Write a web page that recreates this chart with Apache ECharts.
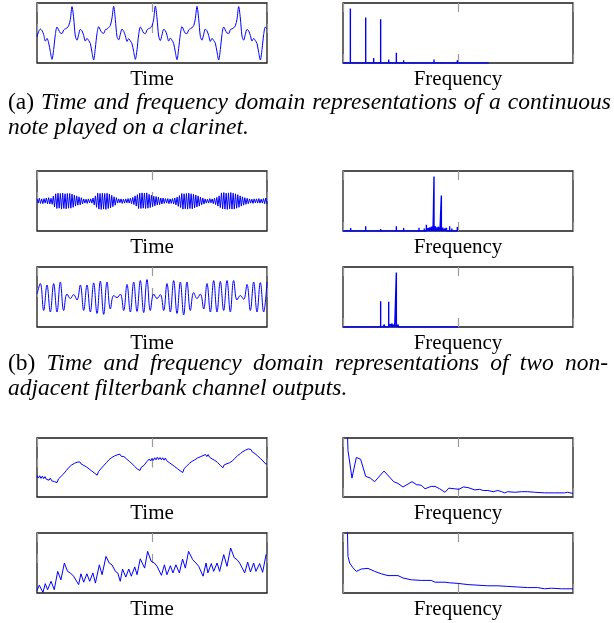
<!DOCTYPE html>
<html><head><meta charset="utf-8">
<script src="https://cdn.jsdelivr.net/npm/echarts@6/dist/echarts.min.js"></script>
<style>html,body{margin:0;padding:0;background:#fff}#c{width:614px;height:623px}</style>
</head><body><div id="c"></div>
<script>
// ---------- DATA ----------
const timeName = 'Time';
const freqName = 'Frequency';

// (a) clarinet, time domain (uniform samples across the window)
const clarinetTime = [
 -0.13,0.05,0.13,0.08,-0.05,-0.27,-0.18,-0.33,-0.62,
 -0.88,-0.55,-0.05,0.2,0.1,0.0,-0.02,0.1,0.14,0.17,0.24,0.45,0.88,0.5,-0.1,-0.24,-0.05,0.12,0.07,-0.08,-0.27,-0.18,-0.25,-0.35,-0.65,
 -0.9,-0.5,-0.02,0.21,0.1,0.01,-0.01,0.11,0.13,0.18,0.25,0.5,0.89,0.45,-0.12,-0.23,-0.04,0.13,0.06,-0.09,-0.28,-0.19,-0.26,-0.36,-0.62,
 -0.88,-0.56,-0.06,0.2,0.11,0.0,-0.02,0.1,0.15,0.17,0.23,0.46,0.9,0.5,-0.1,-0.25,-0.06,0.12,0.08,-0.07,-0.27,-0.17,-0.24,-0.35,-0.64,
 -0.89,-0.52,-0.04,0.21,0.1,-0.01,-0.02,0.1,0.14,0.18,0.24,0.48,0.89,0.48,-0.11,-0.24,-0.05,0.13,0.07,-0.08,-0.28,-0.18,-0.25,-0.34,-0.63,
 -0.9,-0.55,-0.05,0.2,0.1,0.0,-0.02,0.11,0.14,0.17,0.24,0.46,0.88,0.5,-0.1,-0.24,-0.05,0.12,0.07,-0.08,-0.27,-0.18,-0.25,-0.35,-0.65,
 -0.9,-0.55,-0.05,0.2,0.13
];

// (a) clarinet spectrum: harmonic positions and heights
const clarinetFreq = [0.96,1.96,2.96,4.0,4.91,5.96,6.96,7.91,8.91,9.91,10.87,11.87,12.83,13.83,14.91,15.87,16.87,17.9];
const clarinetAmp  = [0.91,0.03,0.76,0.085,0.73,0.057,0.17,0.045,0.02,0.03,0.015,0.057,0.012,0.012,0.045,0.02,0.008,0.006];
const clarinetFreqEnd = 19;

// (b) channel 1, time domain
const chan1Time = [
 0.08,-0.07,0.09,-0.08,0.07,-0.09,0.08,-0.07,
 0.1,-0.09,0.11,-0.1,0.09,-0.11,
 0.16,-0.2,
 0.24,-0.25,0.26,-0.24,0.25,-0.27,0.26,-0.25,0.24,-0.26,0.25,-0.24,0.25,
 -0.24,0.23,-0.21,0.2,-0.17,0.17,-0.14,0.14,-0.13,0.11,-0.1,
 0.07,-0.07,0.06,-0.08,0.07,-0.06,0.07,-0.07,
 0.1,-0.13,0.17,-0.21,
 0.26,-0.27,0.25,-0.28,0.26,-0.27,0.25,-0.28,0.26,-0.25,
 0.23,-0.23,0.19,-0.19,0.14,-0.14,0.11,
 -0.07,0.07,-0.06,0.07,-0.08,0.06,-0.07,0.07,-0.06,0.08,-0.07,
 0.09,-0.09,0.12,-0.12,0.17,-0.17,0.21,
 -0.25,0.26,-0.25,0.27,-0.24,0.26,-0.25,0.27,-0.24,
 0.22,-0.22,0.19,-0.19,0.16,-0.16,0.15,-0.13,0.13,-0.12,0.1,-0.1,0.1,
 -0.08,0.08,-0.07,0.08,-0.09,0.07,-0.08,0.08,
 -0.1,0.1,-0.13,0.13,-0.18,0.18,-0.22,
 0.25,-0.27,0.24,-0.26,0.25,-0.27,0.26,-0.25,0.24,-0.26,
 0.23,-0.23,0.2,-0.2,0.17,-0.17,0.13,-0.13,0.1,-0.1,
 0.07,-0.07,0.06,-0.07,0.08,-0.06,0.07,
 -0.09,0.09,-0.12,0.12,-0.17,0.17,-0.22,
 0.27,-0.26,0.28,-0.27,0.26,-0.28,0.27,-0.26,0.28,-0.27,0.26,-0.27,
 0.24,-0.24,0.21,-0.21,0.17,-0.17,0.14,-0.14,0.11,-0.11,
 0.09,-0.09,
 0.07,-0.07,0.06,-0.08,0.07,-0.06,0.07,-0.07,0.08,-0.07,0.06,-0.07,
 0.08,-0.09,0.1,-0.1
];

// (b) channel 1 spectrum
const chan1Freq = [1.0,2.96,4.91,6.96,7.91,9.91,10.6,10.87,11.1,11.3,11.55,11.75,11.87,12.05,12.25,12.45,12.65,12.83,13.0,13.25,13.5,13.7,13.91,14.2,14.5,14.91];
const chan1Amp  = [0.05,0.08,0.035,0.08,0.05,0.055,0.04,0.105,0.05,0.06,0.07,0.09,0.91,0.08,0.06,0.07,0.05,0.59,0.06,0.04,0.05,0.03,0.08,0.04,0.03,0.065];
const chan1FreqEnd = 15;

// (b) channel 2, time domain
const chan2Time = [
 0.1,0.45,-0.45,0.4,-0.5,0.45,-0.5,0.5,-0.45,0.1,
 -0.05,0.08,-0.1,0.4,-0.45,0.4,-0.5,0.47,-0.55,0.53,
 -0.58,0.5,-0.4,0.05,-0.02,0.1,-0.45,0.42,-0.5,0.5,
 -0.48,0.55,-0.52,0.58,-0.45,0.1,-0.05,0.08,-0.45,0.45,
 -0.5,0.55,-0.55,0.5,-0.6,0.5,-0.45,0.15,-0.05,0.1,
 -0.4,0.45,-0.5,0.55,-0.5,0.52,-0.45,0.55,-0.5,0.55,
 -0.1,0.05,-0.08,0.42,-0.45,0.5,-0.5,0.48,-0.5,0.5
];

// (b) channel 2 spectrum
const chan2Freq = [2.96,3.91,4.91,5.2,5.4,5.65,5.96,6.2,6.4,6.55,6.75,6.96,7.2,7.4,7.8];
const chan2Amp  = [0.01,0.02,0.43,0.03,0.04,0.03,0.42,0.05,0.06,0.04,0.05,0.91,0.04,0.03,0.02];
const chan2FreqEnd = 15;

// (c) envelope 1, time domain
const env1Time = [
 -0.27,-0.36,-0.28,-0.37,-0.29,-0.38,-0.31,-0.40,-0.34,-0.43,-0.36,-0.45,-0.39,-0.48,-0.42,-0.51,
 -0.39,-0.42,-0.30,-0.33,-0.21,-0.23,-0.10,-0.12,0.01,-0.01,0.09,0.04,0.14,0.08,0.18,0.13,
 0.19,0.12,0.14,0.07,0.09,0.02,0.04,-0.05,-0.03,-0.12,-0.10,-0.19,-0.17,-0.26,
 -0.14,-0.17,-0.03,-0.06,0.07,0.04,0.17,0.14,0.27,0.24,0.34,0.29,0.39,0.33,0.43,0.38,
 0.45,0.38,0.44,0.37,0.39,0.29,0.31,0.21,0.23,0.13,0.14,0.04,0.05,-0.05,-0.04,
 -0.10,0.01,-0.04,0.07,0.05,0.19,0.17,0.29,0.22,0.31,0.24,0.33,0.26,0.35,0.27,0.34,0.26,0.33,0.25,0.32,
 0.23,0.25,0.16,0.19,0.10,0.13,0.03,0.06,-0.04,-0.02,-0.11,-0.09,
 -0.17,-0.04,-0.08,0.05,0.01,0.14,0.10,0.21,0.15,0.26,0.21,0.32,0.26,0.36,0.30,0.40,0.34,0.44,0.37,
 0.44,0.35,0.38,0.29,0.33,0.24,0.27,0.17,0.18,0.08,0.09,
 -0.01,0.09,0.03,0.13,0.07,0.16,0.10,0.22,0.19,0.31,0.28,0.40,0.35,0.47,0.42,0.54,0.49,0.59,0.53,0.63,
 0.58,0.61,0.53,0.55,0.47,0.48,0.39,0.40,0.31,0.31,0.22,0.22,0.12,0.12
];

// (c) envelope 1 spectrum: frequency / magnitude pairs
const env1Freq = [0.57,0.65,1.17,1.74,2.30,2.96,3.57,4.13,5.35,6.61,7.17,7.83,9.0,9.57,10.2,10.7,11.5,12.0,12.6,13.3,13.8,14.5,15.1,15.7,16.3,17.2,17.8,18.3,18.9,19.6,20.2,20.7,21.1,21.5,22.4,23.3,24.1,25.0,26.3,27.6,28.9,29.3,30.0];
const env1Mag  = [1.1,0.79,0.32,0.67,0.64,0.35,0.32,0.26,0.44,0.26,0.23,0.17,0.26,0.21,0.20,0.14,0.18,0.18,0.14,0.08,0.15,0.14,0.13,0.17,0.16,0.12,0.13,0.11,0.11,0.09,0.11,0.09,0.07,0.09,0.08,0.09,0.09,0.08,0.07,0.07,0.07,0.08,0.06];

// (c) envelope 2, time domain: time / value pairs
const env2T = [0,1.0,2.6,3.6,4.6,6.1,7.5,9.0,10.4,11.9,13.3,14.5,15.9,18.1,19.1,20.3,21.7,22.9,24.3,25.4,27.1,28.3,30.0,31.4,32.6,34.1,35.1,36.2,37.2,38.6,39.9,41.0,42.5,43.5,44.9,46.8,48.1,49.6,51.0,52.2,54.1,55.4,56.5,58.0,59.1,60.4,61.9,63.3,64.5,65.9,67.7,69.1,70.3,72.2,73.5,74.3,75.8,76.8,78.3,79.4,81.2,82.6,84.2,85.8,87.0,88.1,90.3,91.6,92.8,94.2,95.2,96.8,98.1,99.6,100];
const env2V = [-0.92,-0.74,-0.98,-0.69,-0.89,-0.61,-0.89,-0.28,-0.56,0.0,-0.28,-0.33,-0.44,-0.72,-0.36,-0.64,-0.36,-0.61,-0.33,-0.67,-0.06,-0.39,0.22,0.0,-0.06,-0.28,-0.33,-0.61,-0.2,-0.47,-0.2,-0.44,-0.13,-0.39,0.14,-0.17,0.39,0.06,0.0,-0.11,-0.41,-0.06,-0.39,-0.09,-0.33,-0.06,-0.33,0.13,-0.17,0.39,0.11,0.0,-0.11,-0.44,0.0,-0.33,-0.02,-0.28,0.0,-0.28,0.28,-0.11,0.5,0.17,0.11,0.0,-0.33,0.03,-0.3,0.0,-0.28,-0.02,-0.31,0.28,0.24];

// (c) envelope 2 spectrum
const env2Freq = [0.57,0.65,0.87,1.3,1.74,2.39,3.26,4.13,5.0,5.87,7.17,7.83,8.91,10.2,11.5,12.0,13.3,13.9,15.0,16.3,17.6,18.9,20.2,21.5,22.8,24.1,25.4,26.3,27.2,28.5,30.0];
const env2Mag  = [1.1,0.61,0.5,0.42,0.36,0.4,0.41,0.36,0.32,0.29,0.29,0.25,0.22,0.21,0.21,0.18,0.18,0.17,0.16,0.14,0.13,0.12,0.12,0.11,0.1,0.09,0.09,0.07,0.08,0.07,0.07];

const captionA1 = ['(a)','Time','and','frequency','domain','representations','of','a','continuous'];
const captionA2 = 'note played on a clarinet.';
const captionB1 = ['(b)','Time','and','frequency','domain','representations','of','two','non-'];
const captionB2 = 'adjacent filterbank channel outputs.';

// ---------- BUILD ----------
function uniform(arr){ return arr.map((v,i)=>[i*100/(arr.length-1), v]); }
function pairs(xs, ys){ return xs.map((x,i)=>[x, ys[i]]); }
function spikes(fs, hs, end){
  const d=[[0,0]];
  fs.forEach((f,i)=>{ d.push([f,0],[f,hs[i]],[f,0]); });
  d.push([end,0]);
  return d;
}

const L=37, R=343, W=230;
const panels = [
  {left:L, top:3,   h:60, data:uniform(clarinetTime), xr:[0,100], yr:[-1,1], name:timeName, smooth:0.3},
  {left:R, top:3,   h:60, data:spikes(clarinetFreq, clarinetAmp, clarinetFreqEnd), xr:[0,30], yr:[0,1], name:freqName, w:1.4},
  {left:L, top:171, h:60, data:uniform(chan1Time), xr:[0,100], yr:[-1,1], name:timeName},
  {left:R, top:171, h:60, data:spikes(chan1Freq, chan1Amp, chan1FreqEnd), xr:[0,30], yr:[0,1], name:freqName, w:1.4},
  {left:L, top:267, h:60, data:uniform(chan2Time), xr:[0,100], yr:[-1,1], name:timeName, smooth:0.4},
  {left:R, top:267, h:60, data:spikes(chan2Freq, chan2Amp, chan2FreqEnd), xr:[0,30], yr:[0,1], name:freqName, w:1.4},
  {left:L, top:438, h:59, data:uniform(env1Time), xr:[0,100], yr:[-1,1], name:timeName},
  {left:R, top:438, h:59, data:pairs(env1Freq, env1Mag), xr:[0,30], yr:[0,1], name:freqName},
  {left:L, top:533, h:60, data:pairs(env2T, env2V), xr:[0,100], yr:[-1,1], name:timeName},
  {left:R, top:533, h:60, data:pairs(env2Freq, env2Mag), xr:[0,30], yr:[0,1], name:freqName}
];

const grid=[], xAxis=[], yAxis=[], series=[];
const tick = {show:true, inside:true, length:9, lineStyle:{color:'#9a9a9a', width:1.2}};
panels.forEach((p,i)=>{
  grid.push({left:p.left, top:p.top, width:W, height:p.h, show:true, borderColor:'#1a1a1a', borderWidth:1.3, backgroundColor:'#fff'});
  const base = {type:'value', gridIndex:i, min:p.xr[0], max:p.xr[1], interval:(p.xr[1]-p.xr[0])/2,
    axisLine:{show:false}, axisTick:tick, axisLabel:{show:false}, splitLine:{show:false}};
  xAxis.push(Object.assign({}, base, {position:'bottom', name:p.name, nameLocation:'middle', nameGap:6,
    nameTextStyle:{fontFamily:'Liberation Serif', fontSize:21, color:'#000'}}));
  xAxis.push(Object.assign({}, base, {position:'top'}));
  yAxis.push({type:'value', gridIndex:i, min:p.yr[0], max:p.yr[1], show:false});
  series.push({type:'line', xAxisIndex:2*i, yAxisIndex:i, data:p.data, showSymbol:false, symbol:'none',
    smooth:p.smooth||false, clip:true, lineStyle:{color:'#0000ff', width:p.w||1}, z:1});
});

// captions (justified first line)
const ctx = document.createElement('canvas').getContext('2d');
const FS = 23.5;
const fUp = FS+'px "Liberation Serif"', fIt = 'italic '+FS+'px "Liberation Serif"';
function mw(font, t){ ctx.font=font; return ctx.measureText(t).width; }
function justified(words, x0, x1, y){
  const fonts = words.map((w,i)=> i===0 ? fUp : fIt);
  const ws = words.map((w,i)=>mw(fonts[i], w));
  const gap = (x1-x0-ws.reduce((a,b)=>a+b,0))/(words.length-1);
  let x=x0; const out=[];
  words.forEach((w,i)=>{ out.push({type:'text', x:x, y:y, style:{text:w, font:fonts[i], fill:'#000', verticalAlign:'middle'}}); x+=ws[i]+gap; });
  return out;
}
const graphic = [].concat(
  justified(captionA1, 8, 611, 103),
  [{type:'text', x:8, y:128, style:{text:captionA2, font:fIt, fill:'#000', verticalAlign:'middle'}}],
  justified(captionB1, 8, 608, 364),
  [{type:'text', x:8, y:389, style:{text:captionB2, font:fIt, fill:'#000', verticalAlign:'middle'}}]
);

const chart = echarts.init(document.getElementById('c'), null, {renderer:'canvas'});
chart.setOption({animation:false, backgroundColor:'#fff', grid, xAxis, yAxis, series, graphic});
</script></body></html>
